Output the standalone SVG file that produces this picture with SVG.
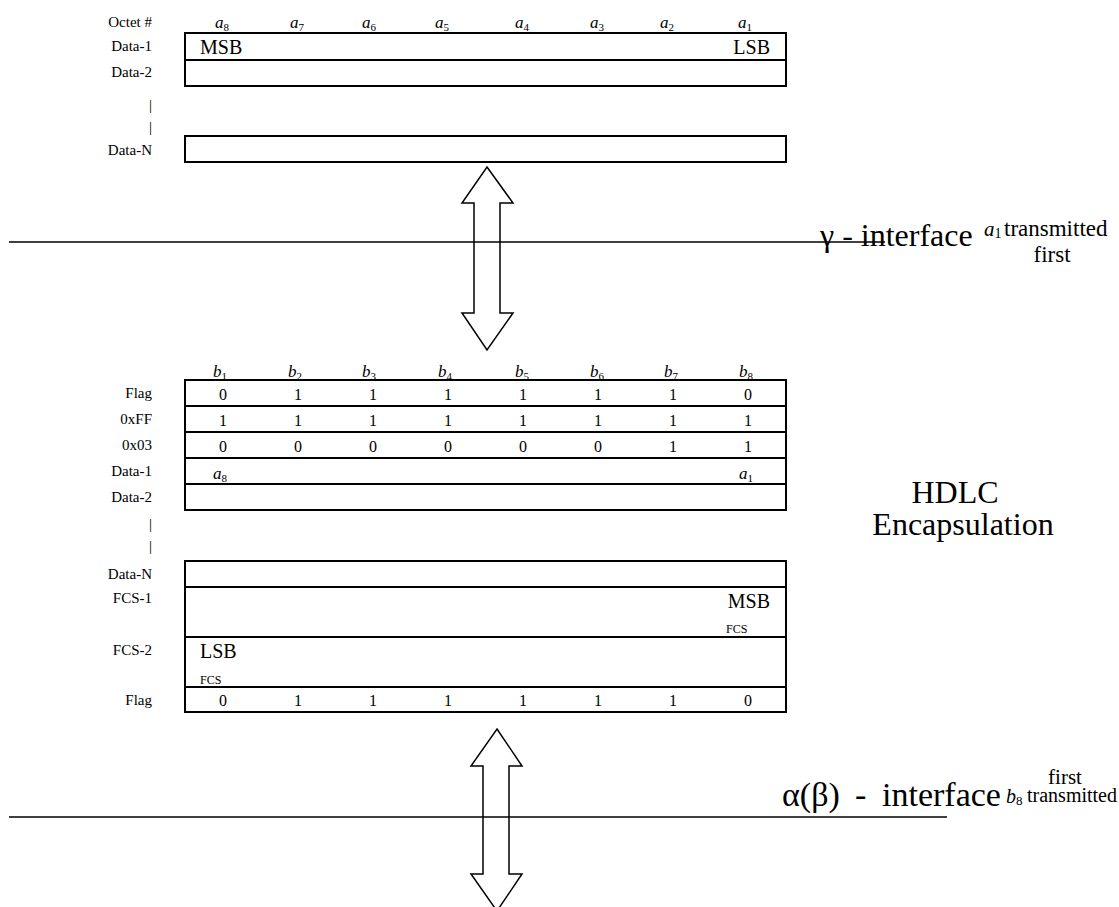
<svg xmlns="http://www.w3.org/2000/svg" width="1119" height="907" viewBox="0 0 1119 907">
<style>
text{font-family:"Liberation Serif","Times New Roman",serif;fill:#000}
.lbl{font-size:15px;text-anchor:end}
.hdr{font-size:17px;font-style:italic}
.sub{font-size:11px;font-style:normal}
.dig{font-size:16px;text-anchor:middle}
.sb{font-size:20px}
.fcs{font-size:12px}
.big{font-size:32px}
.box{fill:none;stroke:#000;stroke-width:2}
.ln{stroke:#000;stroke-width:1.5;fill:none}
.arrow{fill:none;stroke:#000;stroke-width:1.5;stroke-linejoin:miter}
</style>
<rect width="1119" height="907" fill="#fff"/>

<g id="top-labels">
<text class="lbl" x="152" y="27">Octet #</text>
<text class="lbl" x="152" y="51">Data-1</text>
<text class="lbl" x="152" y="77">Data-2</text>
<text class="lbl" x="152" y="110">|</text>
<text class="lbl" x="152" y="132">|</text>
<text class="lbl" x="152" y="155">Data-N</text>
<text class="hdr" x="215" y="28">a<tspan class="sub" dy="3">8</tspan></text>
<text class="hdr" x="290" y="28">a<tspan class="sub" dy="3">7</tspan></text>
<text class="hdr" x="362" y="28">a<tspan class="sub" dy="3">6</tspan></text>
<text class="hdr" x="435" y="28">a<tspan class="sub" dy="3">5</tspan></text>
<text class="hdr" x="515" y="28">a<tspan class="sub" dy="3">4</tspan></text>
<text class="hdr" x="590" y="28">a<tspan class="sub" dy="3">3</tspan></text>
<text class="hdr" x="660" y="28">a<tspan class="sub" dy="3">2</tspan></text>
<text class="hdr" x="738" y="28">a<tspan class="sub" dy="3">1</tspan></text>
</g>

<g id="top-table">
<rect class="box" x="185" y="33" width="601" height="53"/>
<line class="box" x1="185" y1="60" x2="786" y2="60"/>
<text class="sb" x="200" y="54">MSB</text>
<text class="sb" x="770" y="54" text-anchor="end">LSB</text>
<rect class="box" x="185" y="136" width="601" height="26"/>
</g>

<g id="lower-labels">
<text class="hdr" x="213" y="377">b<tspan class="sub" dy="3">1</tspan></text>
<text class="hdr" x="288" y="377">b<tspan class="sub" dy="3">2</tspan></text>
<text class="hdr" x="362" y="377">b<tspan class="sub" dy="3">3</tspan></text>
<text class="hdr" x="438" y="377">b<tspan class="sub" dy="3">4</tspan></text>
<text class="hdr" x="515" y="377">b<tspan class="sub" dy="3">5</tspan></text>
<text class="hdr" x="590" y="377">b<tspan class="sub" dy="3">6</tspan></text>
<text class="hdr" x="664" y="377">b<tspan class="sub" dy="3">7</tspan></text>
<text class="hdr" x="739" y="377">b<tspan class="sub" dy="3">8</tspan></text>
<text class="lbl" x="152" y="398">Flag</text>
<text class="lbl" x="152" y="424">0xFF</text>
<text class="lbl" x="152" y="450">0x03</text>
<text class="lbl" x="152" y="476">Data-1</text>
<text class="lbl" x="152" y="502">Data-2</text>
<text class="lbl" x="152" y="529">|</text>
<text class="lbl" x="152" y="551">|</text>
<text class="lbl" x="152" y="579">Data-N</text>
<text class="lbl" x="152" y="603">FCS-1</text>
<text class="lbl" x="152" y="655">FCS-2</text>
<text class="lbl" x="152" y="705">Flag</text>
</g>

<g id="lower-table">
<rect class="box" x="185" y="380" width="601" height="130"/>
<line class="box" x1="185" y1="406" x2="786" y2="406"/>
<line class="box" x1="185" y1="432" x2="786" y2="432"/>
<line class="box" x1="185" y1="458" x2="786" y2="458"/>
<line class="box" x1="185" y1="484" x2="786" y2="484"/>
<text class="dig" x="223" y="400">0</text><text class="dig" x="298" y="400">1</text><text class="dig" x="373" y="400">1</text><text class="dig" x="448" y="400">1</text><text class="dig" x="523" y="400">1</text><text class="dig" x="598" y="400">1</text><text class="dig" x="673" y="400">1</text><text class="dig" x="748" y="400">0</text>
<text class="dig" x="223" y="426">1</text><text class="dig" x="298" y="426">1</text><text class="dig" x="373" y="426">1</text><text class="dig" x="448" y="426">1</text><text class="dig" x="523" y="426">1</text><text class="dig" x="598" y="426">1</text><text class="dig" x="673" y="426">1</text><text class="dig" x="748" y="426">1</text>
<text class="dig" x="223" y="452">0</text><text class="dig" x="298" y="452">0</text><text class="dig" x="373" y="452">0</text><text class="dig" x="448" y="452">0</text><text class="dig" x="523" y="452">0</text><text class="dig" x="598" y="452">0</text><text class="dig" x="673" y="452">1</text><text class="dig" x="748" y="452">1</text>
<text class="hdr" x="213" y="479">a<tspan class="sub" dy="3">8</tspan></text>
<text class="hdr" x="739" y="479">a<tspan class="sub" dy="3">1</tspan></text>

<rect class="box" x="185" y="561" width="601" height="151"/>
<line class="box" x1="185" y1="587" x2="786" y2="587"/>
<line class="box" x1="185" y1="637" x2="786" y2="637"/>
<line class="box" x1="185" y1="687" x2="786" y2="687"/>
<text class="sb" x="770" y="608" text-anchor="end">MSB</text>
<text class="fcs" x="726" y="633">FCS</text>
<text class="sb" x="200" y="658">LSB</text>
<text class="fcs" x="200" y="684">FCS</text>
<text class="dig" x="223" y="706">0</text><text class="dig" x="298" y="706">1</text><text class="dig" x="373" y="706">1</text><text class="dig" x="448" y="706">1</text><text class="dig" x="523" y="706">1</text><text class="dig" x="598" y="706">1</text><text class="dig" x="673" y="706">1</text><text class="dig" x="748" y="706">0</text>
</g>

<g id="connectors">
<line class="ln" x1="9" y1="242" x2="885" y2="242"/>
<line class="ln" x1="9" y1="817" x2="947" y2="817"/>
<polygon class="arrow" points="487,167 513,203 500,203 500,313 513,313 487,350 462,313 474,313 474,203 462,203"/>
<polygon class="arrow" points="497,729 522,766 509,766 509,874 522,874 497,911 471,874 483,874 483,766 471,766"/>
</g>

<g id="gamma-interface">
<text class="big" x="820" y="246">γ - interface</text>
<text x="984" y="236" style="font-size:21px;font-style:italic">a<tspan style="font-size:14px;font-style:normal" dy="2">1</tspan></text>
<text x="1004" y="236" style="font-size:23px">transmitted</text>
<text x="1052" y="262" text-anchor="middle" style="font-size:23px">first</text>
</g>

<g id="hdlc">
<text class="big" x="955" y="503" text-anchor="middle">HDLC</text>
<text class="big" x="963" y="535" text-anchor="middle">Encapsulation</text>
</g>

<g id="alpha-interface">
<text style="font-size:34px" x="782" y="806">α(β)<tspan x="855">-</tspan><tspan x="882">interface</tspan></text>
<text x="1006" y="803" style="font-size:20px;font-style:italic">b<tspan style="font-size:13px;font-style:normal" dy="2">8</tspan></text>
<text x="1027" y="802" style="font-size:20px">transmitted</text>
<text x="1065" y="784" text-anchor="middle" style="font-size:21px">first</text>
</g>
</svg>
